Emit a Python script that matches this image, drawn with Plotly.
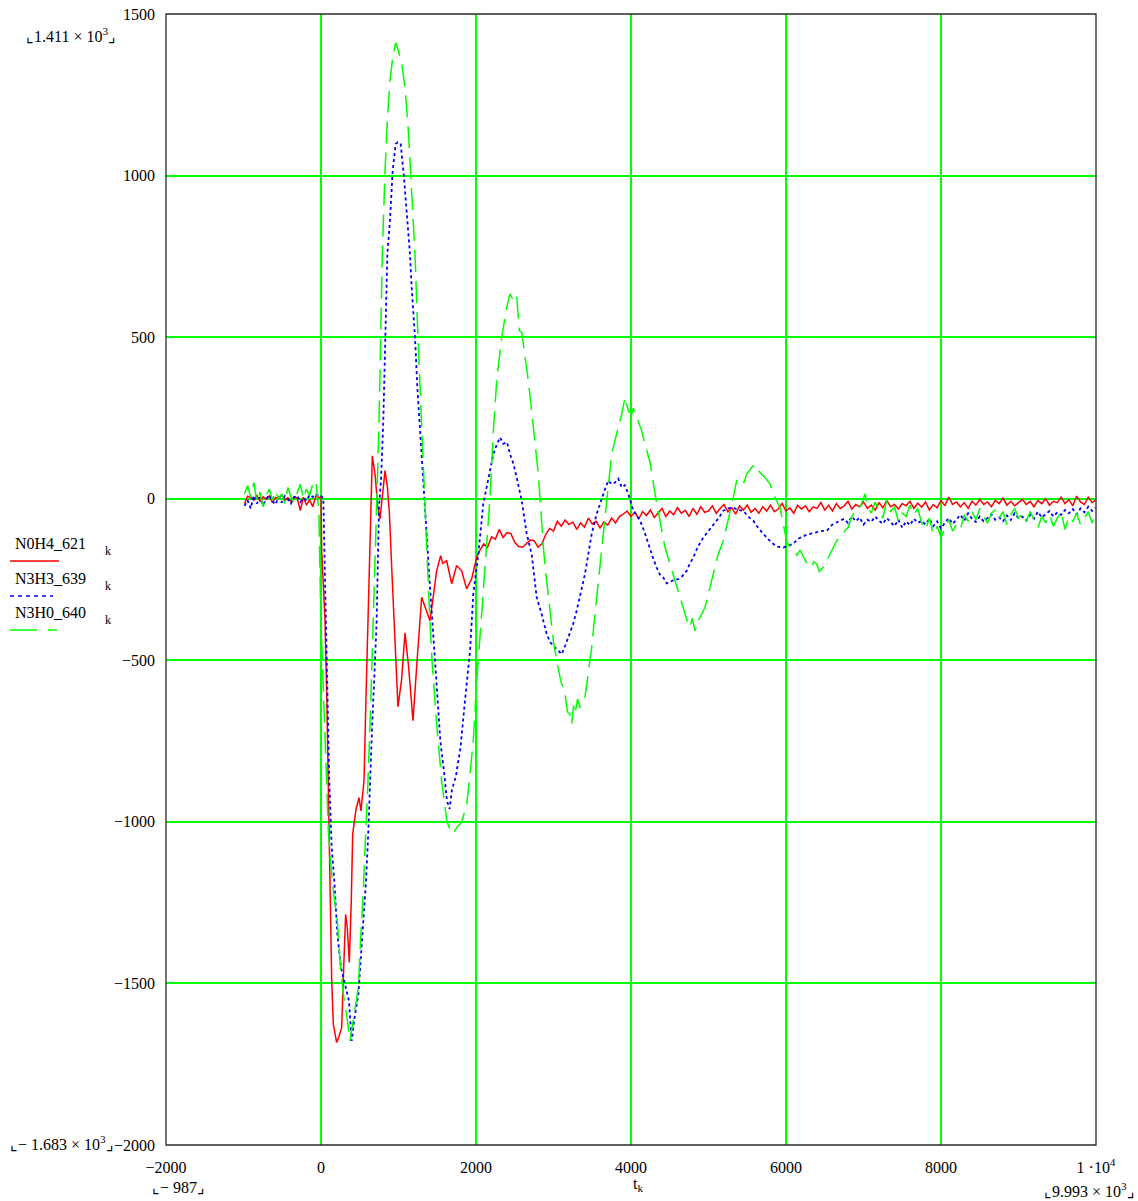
import plotly.graph_objects as go

# ---------------- data ----------------
# pre-trigger samples (common time grid)
PRE_T = list(range(-987, 0, 40))

RED_PRE = [-15, 8, 4, -5, 10, -8, 6, -2, 9, -12, 4, 0, 11, -6, 3, -10, 7, 2, -37, 5, -20, -3, -25, 8, 4]
RED_MAIN_T = [0, 9, 30, 52, 75, 95, 116, 138, 159, 185,
              202, 230, 267, 290, 318, 340, 365, 390, 409, 452,
              490, 516, 555, 580, 606, 635, 662, 700, 730, 761,
              795, 826, 855, 882, 910, 942, 970, 993, 1040, 1084,
              1130, 1187, 1240, 1299, 1350, 1406, 1450, 1492, 1544, 1570,
              1621, 1686, 1750, 1815, 1879, 1923, 1944, 2009]
RED_MAIN_Y = [5, -161, -270, -378, -620, -873, -1183, -1492, -1626, -1670,
              -1683, -1665, -1637, -1470, -1286, -1330, -1435, -1250, -1038, -961,
              -925, -966, -873, -620, -378, -100, 133, 70, -20, -63,
              20, 87, 40, -42, -200, -378, -560, -644, -560, -415,
              -520, -687, -500, -305, -340, -378, -300, -223, -176, -200,
              -192, -263, -207, -223, -279, -254, -248, -182]
RED_TAIL_T = list(range(2050, 9951, 50)) + [9993]
RED_TAIL_Y = [-160, -140, -150, -118, -125, -95, -120, -105, -108, -135,
              -148, -150, -140, -128, -130, -150, -140, -110, -92, -100,
              -70, -85, -66, -80, -72, -95, -75, -88, -60, -78,
              -70, -90, -72, -82, -60, -75, -55, -48, -38, -55,
              -42, -62, -40, -52, -35, -58, -44, -30, -55, -38,
              -50, -28, -45, -36, -55, -30, -48, -25, -42, -38,
              -22, -45, -30, -18, -40, -28, -48, -22, -35, -20,
              -42, -30, -45, -25, -38, -20, -40, -32, -15, -38,
              -28, -45, -20, -32, -22, -40, -25, -30, -12, -35,
              -20, -38, -15, -30, -22, -8, -32, -18, -25, -10,
              -30, -20, -35, -12, -28, -5, -25, -18, -32, -15,
              -22, -8, -30, -14, -26, -10, -35, -18, -28, -5,
              -22, 5, -18, -10, -25, -12, -30, -8, -20, -2,
              -18, -10, -25, -5, -15, 2, -20, -8, -22, -12,
              -2, -18, -8, -25, -5, -15, 0, -20, -8, -12,
              5, -15, -3, -22, 8, -10, -18, 5, -12,
              -5]

BLUE_PRE = [-22, -5, -30, 10, -15, 5, -20, 0, 12, -8, -18, 6, -12, 8, -2, -15, 4, 10, -10, 2, -6, 12, 5, 15, 8]
BLUE_MAIN_T = [0, 30, 52, 64, 85, 107, 138, 172, 211, 258,
               310, 361, 396, 426, 482, 546, 581, 611, 632, 660,
               690, 718, 748, 775, 804, 826, 856, 890, 925, 964,
               989, 1028, 1071, 1114, 1148, 1170, 1213, 1243, 1269, 1329,
               1400, 1471, 1540, 1590, 1625, 1660, 1690, 1740, 1800, 1858,
               1923, 1965, 2030, 2094, 2159, 2224, 2265, 2310, 2352, 2400,
               2439, 2480, 2525, 2590, 2654, 2718, 2783, 2847, 2912, 2960,
               3019, 3060, 3106, 3150, 3191, 3250, 3299, 3350, 3406, 3450,
               3493, 3557, 3622, 3665, 3707, 3750, 3793, 3836, 3880, 3920,
               3965, 4030, 4070, 4116, 4170, 4223, 4280, 4331, 4374, 4417,
               4460, 4503, 4560, 4611, 4660, 4719, 4760, 4804, 4860, 4933,
               5000, 5062, 5130, 5191, 5250, 5320, 5380, 5449, 5510, 5578,
               5640, 5707, 5750, 5810, 5880, 5965, 6030, 6094, 6150, 6200,
               6260, 6310, 6380, 6450, 6525, 6600, 6697]
BLUE_MAIN_Y = [10, 0, -233, -378, -650, -873, -1080, -1183, -1348, -1451,
               -1503, -1554, -1678, -1616, -1534, -1327, -1183, -1028, -873, -700,
               -540, -378, -27, 60, 241, 499, 757, 861, 1015, 1098,
               1103, 1098, 995, 861, 757, 654, 499, 345, 241, 0,
               -250, -500, -750, -850, -935, -960, -900, -860, -770, -625,
               -471, -295, -171, -16, 56, 138, 165, 190, 170, 175,
               138, 110, 66, -6, -109, -171, -305, -357, -419, -445,
               -460, -470, -481, -455, -429, -390, -347, -290, -233, -170,
               -109, -47, 4, 30, 56, 45, 50, 62, 35, 42,
               15, -37, -50, -68, -100, -140, -180, -213, -235, -244,
               -262, -259, -250, -249, -240, -223, -200, -182, -150, -120,
               -100, -78, -60, -37, -30, -27, -35, -37, -55, -68,
               -90, -109, -120, -135, -148, -151, -145, -140, -125, -118,
               -112, -109, -105, -100, -99, -80, -68]
BLUE_TAIL_T = list(range(6750, 9951, 50)) + [9993]
BLUE_TAIL_Y = [-62, -75, -55, -70, -58, -80, -65, -72, -55, -68,
               -78, -60, -72, -85, -65, -90, -70, -82, -62, -75,
               -68, -80, -62, -85, -70, -92, -75, -60, -78, -65,
               -50, -68, -45, -62, -72, -55, -70, -60, -48, -65,
               -58, -70, -52, -66, -45, -60, -55, -68, -50, -62,
               -40, -58, -48, -38, -55, -42, -50, -35, -45, -32,
               -48, -30, -42, -25, -38,
               -28]

GREEN_PRE = [15, 40, 5, 50, -10, 20, -25, 10, 30, -5, 25, 0, 15, -15, 35, 5, -10, 20, 45, 0, 30, 10, 45, 55, -40]
GREEN_MAIN_T = [-4, 30, 73, 95, 125, 159, 211, 245, 288, 331,
                374, 417, 482, 512, 546, 568, 598, 640, 675, 718,
                745, 770, 791, 826, 856, 890, 925, 964, 998, 1041,
                1084, 1127, 1170, 1213, 1243, 1277, 1299, 1342, 1390, 1432,
                1500, 1560, 1626, 1686, 1720, 1760, 1815, 1880, 1900, 1965,
                2009, 2073, 2138, 2181, 2224, 2267, 2331, 2396, 2439, 2482,
                2525, 2545, 2559, 2590, 2632, 2675, 2718, 2761, 2804, 2835,
                2869, 2912, 2955, 2998, 3050, 3093, 3149, 3180, 3213, 3234,
                3260, 3277, 3310, 3342, 3406, 3449, 3493, 3535, 3578, 3622,
                3664, 3707, 3750, 3793, 3836, 3880, 3923, 3945, 3965, 4009,
                4030, 4052, 4095, 4138, 4180, 4245, 4310, 4374, 4439, 4503,
                4568, 4632, 4697, 4740, 4761, 4790, 4826, 4860, 4890, 4955,
                4997, 5062, 5126, 5191, 5255, 5320, 5363, 5428, 5460, 5492,
                5557, 5600, 5630, 5664, 5728, 5793, 5836, 5922, 5965, 6008,
                6050, 6094, 6140, 6180, 6224, 6270, 6331, 6360, 6396, 6430,
                6460, 6500, 6525, 6560, 6589, 6620, 6654, 6700, 6740, 6770,
                6804, 6840, 6869, 6910, 6955, 6990, 7020]
GREEN_MAIN_Y = [-357, -600, -873, -1028, -1131, -1214, -1307, -1430, -1534, -1596,
                -1678, -1616, -1513, -1358, -1214, -1080, -925, -650, -378, 25,
                200, 499, 757, 1015, 1170, 1294, 1366, 1411, 1387, 1346,
                1273, 1139, 964, 757, 551, 345, 241, 0, -300, -500,
                -720, -880, -1000, -1037, -1030, -1015, -1002, -945, -904, -749,
                -563, -357, -151, 4, 210, 365, 499, 592, 634, 613,
                628, 560, 520, 515, 448, 365, 272, 180, 76, -27,
                -151, -254, -357, -440, -512, -563, -605, -660, -667, -698,
                -640, -667, -620, -646, -615, -543, -460, -357, -254, -151,
                -47, 56, 138, 180, 221, 262, 314, 290, 272, 262,
                280, 267, 241, 210, 169, 113, 15, -68, -151, -202,
                -254, -305, -357, -390, -398, -370, -409, -380, -367, -336,
                -295, -233, -171, -130, -68, 4, 56, 66, 50, 76,
                97, 107, 95, 81, 66, 46, 15, -27, -78, -130,
                -150, -161, -175, -160, -182, -200, -213, -195, -202, -225,
                -218, -205, -192, -175, -161, -150, -130, -120, -109, -95,
                -89, -60, -47, -35, -27, -5, 15]
GREEN_TAIL_T = list(range(7050, 9951, 50)) + [9993]
GREEN_TAIL_Y = [-20, -45, -10, -35, -60, -5, -40, -25, -70, -45,
                -55, -20, -50, -30, -75, -95, -60, -110, -85, -120,
                -90, -65, -100, -80, -95, -50, -70, -40, -65, -30,
                -55, -75, -45, -35, -60, -40, -80, -50, -30, -60,
                -45, -70, -40, -65, -90, -55, -75, -50, -85, -60,
                -40, -95, -55, -70, -45, -80, -60, -40, -75,
                -50]

SERIES_NAMES = ["N0H4_621", "N3H3_639", "N3H0_640"]
X_TICKS = [-2000, 0, 2000, 4000, 6000, 8000, 10000]
X_TICK_TEXT = ["\u22122000", "0", "2000", "4000", "6000", "8000", "1 \u00b710<sup>4</sup>"]
Y_TICKS = [-2000, -1500, -1000, -500, 0, 500, 1000, 1500]
Y_TICK_TEXT = ["\u22122000", "\u22121500", "\u22121000", "\u2212500", "0", "500", "1000", "1500"]

red_t = PRE_T + RED_MAIN_T + RED_TAIL_T
red_y = RED_PRE + RED_MAIN_Y + RED_TAIL_Y
blue_t = PRE_T + BLUE_MAIN_T + BLUE_TAIL_T
blue_y = BLUE_PRE + BLUE_MAIN_Y + BLUE_TAIL_Y
green_t = PRE_T + GREEN_MAIN_T + GREEN_TAIL_T
green_y = GREEN_PRE + GREEN_MAIN_Y + GREEN_TAIL_Y

# ---------------- figure ----------------
W, H = 1138, 1201
# plot area in page pixels
L, R, T, B = 166, 1096, 14, 1145
FONT = "Liberation Serif"
FS = 16
GRID = "#00ff00"


def px(x):
    return (x - L) / (R - L)


def py(y):
    return (B - y) / (B - T)


fig = go.Figure()
fig.add_trace(go.Scatter(x=red_t, y=red_y, mode="lines", name=SERIES_NAMES[0],
                         line=dict(color="#ff0000", width=1.5)))
fig.add_trace(go.Scatter(x=blue_t, y=blue_y, mode="lines", name=SERIES_NAMES[1],
                         line=dict(color="#0000ff", width=1.8, dash="3px,3px")))
fig.add_trace(go.Scatter(x=green_t, y=green_y, mode="lines", name=SERIES_NAMES[2],
                         line=dict(color="#00ff00", width=1.5, dash="22px,9px")))

axis_common = dict(showgrid=True, gridcolor=GRID, gridwidth=1.5, zeroline=False,
                   ticks="", showline=False, automargin=False,
                   ticklabeloverflow="allow",
                   tickfont=dict(family=FONT, size=FS, color="black"))
fig.update_xaxes(range=[-2000, 10000], tickvals=X_TICKS, ticktext=X_TICK_TEXT,
                 ticklabelstandoff=11, **axis_common)
fig.update_yaxes(range=[-2000, 1500], tickvals=Y_TICKS, ticktext=Y_TICK_TEXT,
                 ticklabelstandoff=10, **axis_common)

shapes = [
    dict(type="rect", xref="paper", yref="paper", x0=0, x1=1, y0=0, y1=1,
         line=dict(color="#2a2a2a", width=1.3), layer="above"),
]
# legend samples
legend_rows = [
    (SERIES_NAMES[0], 543, 561, "#ff0000", "solid", 59),
    (SERIES_NAMES[1], 578, 596, "#0000ff", "4px,4px", 53),
    (SERIES_NAMES[2], 612, 630, "#00ff00", "27px,11px", 57),
]
annotations = []
for name, ty, ly, col, dash, xend in legend_rows:
    shapes.append(dict(type="line", xref="paper", yref="paper",
                       x0=px(10), x1=px(xend), y0=py(ly), y1=py(ly),
                       line=dict(color=col, width=1.5, dash=dash)))
    annotations.append(dict(text=name, xref="paper", yref="paper",
                            x=px(13), y=py(ty), xanchor="left", yanchor="middle",
                            showarrow=False, font=dict(family=FONT, size=FS, color="black")))
    annotations.append(dict(text="k", xref="paper", yref="paper",
                            x=px(103), y=py(ty + 8), xanchor="left", yanchor="middle",
                            showarrow=False, font=dict(family=FONT, size=12, color="black")))


def note(text, x, y, anchor="left", size=FS):
    annotations.append(dict(text=text, xref="paper", yref="paper", x=px(x), y=py(y),
                            xanchor=anchor, yanchor="middle", showarrow=False,
                            font=dict(family=FONT, size=size, color="black")))


note("\u231e1.411 \u00d7 10<sup>3</sup>\u231f", 24, 35)
note("\u231e\u2212 1.683 \u00d7 10<sup>3</sup>\u231f", 8, 1143)
note("\u231e\u2212 987\u231f", 150, 1187)
note("\u231e9.993 \u00d7 10<sup>3</sup>\u231f", 1042, 1190)
note("t<sub>k</sub>", 638, 1184, anchor="center")

fig.update_layout(
    width=W, height=H, autosize=False,
    margin=dict(l=L, r=W - R, t=T, b=H - B, pad=0),
    paper_bgcolor="white", plot_bgcolor="white",
    showlegend=False, shapes=shapes, annotations=annotations,
    font=dict(family=FONT, size=FS, color="black"),
)

# remove the default 8px page margin so the figure fills the window exactly
fig.write_html("out.html", config={"displayModeBar": False},
               post_script="document.body.style.margin='0';")
